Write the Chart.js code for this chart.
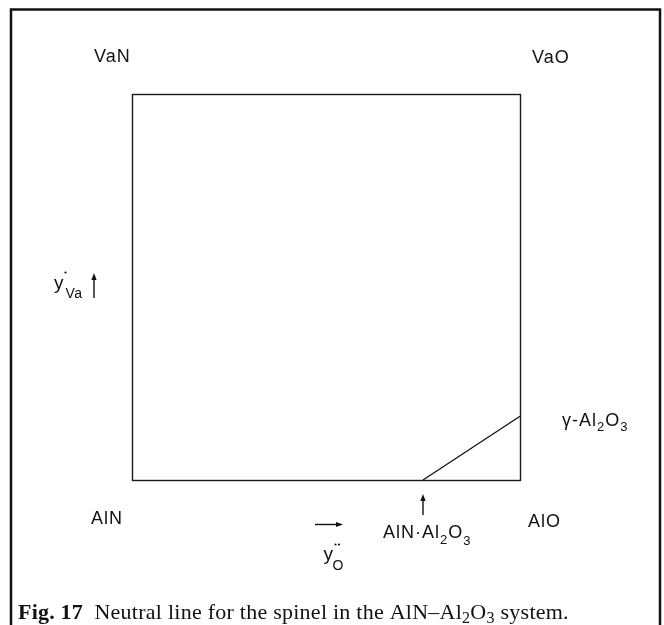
<!DOCTYPE html>
<html>
<head>
<meta charset="utf-8">
<script src="https://cdn.jsdelivr.net/npm/chart.js@4/dist/chart.umd.min.js"></script>
<style>
  html, body { margin: 0; padding: 0; background: #ffffff; }
  #wrap { width: 664px; height: 625px; position: relative; }
</style>
</head>
<body>
<div id="wrap"><canvas id="c" width="664" height="625"></canvas></div>
<script>
// Site fraction of O on the anion sublattice (x) and of vacancies (y)
const yO = [0.75, 1.0];
const yVa = [0.0, 0.165];
// Corner compounds of the composition square
const cornerTopLeft = 'VaN';
const cornerTopRight = 'VaO';
const cornerBottomLeft = 'AlN';
const cornerBottomRight = 'AlO';

const SANS = '"Liberation Sans", Arial, sans-serif';
const SERIF = '"Liberation Serif", "Times New Roman", serif';

// draw a run of text pieces: [text, size, baseline shift, weight, family]
function drawRuns(ctx, runs, x, y, spacing) {
  let cx = x;
  for (const r of runs) {
    const [t, size, dy, weight, fam] = r;
    ctx.font = (weight || 'normal') + ' ' + size + 'px ' + (fam || SANS);
    ctx.letterSpacing = (spacing || 0) + 'px';
    ctx.fillText(t, cx, y + (dy || 0));
    cx += ctx.measureText(t).width;
  }
  ctx.letterSpacing = '0px';
  return cx;
}

function dot(ctx, x, y) {
  ctx.beginPath();
  ctx.arc(x, y, 1.1, 0, Math.PI * 2);
  ctx.fill();
}

function arrow(ctx, x1, y1, x2, y2) {
  const a = Math.atan2(y2 - y1, x2 - x1);
  ctx.beginPath();
  ctx.moveTo(x1, y1);
  ctx.lineTo(x2 - 4 * Math.cos(a), y2 - 4 * Math.sin(a));
  ctx.lineWidth = 1.4;
  ctx.stroke();
  ctx.beginPath();
  ctx.moveTo(x2, y2);
  ctx.lineTo(x2 - 7 * Math.cos(a) + 2.6 * Math.sin(a), y2 - 7 * Math.sin(a) - 2.6 * Math.cos(a));
  ctx.lineTo(x2 - 7 * Math.cos(a) - 2.6 * Math.sin(a), y2 - 7 * Math.sin(a) + 2.6 * Math.cos(a));
  ctx.closePath();
  ctx.fill();
}

const framePlugin = {
  id: 'frameAndLabels',
  afterDraw(chart) {
    const ctx = chart.ctx;
    const a = chart.chartArea;
    const xs = chart.scales.x, ys = chart.scales.y;
    ctx.save();
    ctx.fillStyle = '#111';
    ctx.strokeStyle = '#111';

    // page frame (open at the bottom)
    ctx.lineWidth = 2.5;
    ctx.beginPath();
    ctx.moveTo(11, 625); ctx.lineTo(11, 9.5); ctx.lineTo(660, 9.5); ctx.lineTo(660, 625);
    ctx.stroke();

    // composition square
    ctx.lineWidth = 1.4;
    ctx.strokeStyle = '#1a1a1a';
    ctx.strokeRect(a.left + 0.5, a.top + 0.5, a.right - a.left, a.bottom - a.top);
    ctx.strokeStyle = '#111';

    ctx.textBaseline = 'alphabetic';
    ctx.textAlign = 'left';

    // corner labels
    drawRuns(ctx, [[cornerTopLeft, 18]], a.left - 38, a.top - 32, 1);
    drawRuns(ctx, [[cornerTopRight, 18]], a.right + 12, a.top - 31, 1);
    drawRuns(ctx, [[cornerBottomLeft, 18]], a.left - 41, a.bottom + 44, 1);
    drawRuns(ctx, [[cornerBottomRight, 18]], a.right + 8, a.bottom + 47, 1);

    // y'_Va axis label with arrow
    drawRuns(ctx, [['y', 19]], 54, 289, 0);
    dot(ctx, 65.5, 272.5);
    drawRuns(ctx, [['Va', 14]], 65.5, 298, 0.5);
    arrow(ctx, 94, 298, 94, 273);

    // y''_O axis label with arrow
    arrow(ctx, 315, 524.5, 343, 524.5);
    drawRuns(ctx, [['y', 19]], 323.5, 560, 0);
    dot(ctx, 335.5, 544.5);
    dot(ctx, 339, 544.5);
    drawRuns(ctx, [['O', 14]], 332.5, 570, 0);

    // end points of the neutral line
    const x0 = xs.getPixelForValue(yO[0]);
    arrow(ctx, x0, 515, x0, 494);
    drawRuns(ctx, [['AlN\u00B7Al', 18], ['2', 13, 6], ['O', 18], ['3', 13, 7]], 383, 538, 1);
    const yEnd = ys.getPixelForValue(yVa[1]);
    drawRuns(ctx, [['\u03B3-Al', 18], ['2', 13, 5], ['O', 18], ['3', 13, 5]], a.right + 42, yEnd + 10, 1);

    // caption
    let cx = drawRuns(ctx, [['Fig. 17', 22, 0, 'bold', SERIF]], 18, 619, 0.2);
    drawRuns(ctx, [
      ['  Neutral line for the spinel in the AlN\u2013Al', 22, 0, 'normal', SERIF],
      ['2', 16, 4, 'normal', SERIF],
      ['O', 22, 0, 'normal', SERIF],
      ['3', 16, 4, 'normal', SERIF],
      [' system.', 22, 0, 'normal', SERIF]
    ], cx, 619, 0.25);
    ctx.restore();
  }
};

new Chart(document.getElementById('c'), {
  type: 'scatter',
  data: {
    datasets: [{
      label: 'neutral line',
      data: yO.map((v, i) => ({ x: v, y: yVa[i] })),
      showLine: true,
      borderColor: '#111',
      borderWidth: 1.3,
      pointRadius: 0,
      fill: false,
      clip: false
    }]
  },
  options: {
    responsive: false,
    animation: false,
    events: [],
    layout: { padding: { left: 132, top: 94, right: 144, bottom: 145 } },
    plugins: { legend: { display: false }, tooltip: { enabled: false } },
    scales: {
      x: { type: 'linear', min: 0, max: 1, display: false },
      y: { type: 'linear', min: 0, max: 1, display: false }
    }
  },
  plugins: [framePlugin]
});
</script>
</body>
</html>
